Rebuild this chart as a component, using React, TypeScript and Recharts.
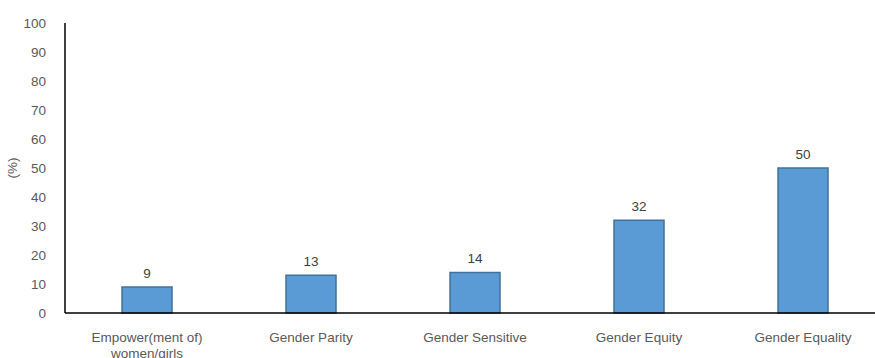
import { BarChart, Bar, XAxis, YAxis, LabelList, Label } from "recharts";

const categories = [
  "Empower(ment of)\nwomen/girls",
  "Gender Parity",
  "Gender Sensitive",
  "Gender Equity",
  "Gender Equality",
];
const values = [9, 13, 14, 32, 50];
const yTicks = [0, 10, 20, 30, 40, 50, 60, 70, 80, 90, 100];

const data = categories.map((name, i) => ({ name, value: values[i] }));

const FONT = "'Liberation Sans', Arial, sans-serif";
const TEXT = "#595959";

function CategoryTick(props: any) {
  const { x, y, payload } = props;
  const lines = String(payload.value).split("\n");
  return (
    <text x={x} y={y} textAnchor="middle" fill={TEXT} fontSize={13.5} fontFamily={FONT}>
      {lines.map((l, i) => (
        <tspan key={i} x={x} dy={i === 0 ? 21 : 15.5}>
          {l}
        </tspan>
      ))}
    </text>
  );
}

export default function App() {
  return (
    <div
      style={{
        position: "absolute",
        left: 0,
        top: 0,
        width: 875,
        height: 358,
        overflow: "hidden",
        background: "#fff",
      }}
    >
      <BarChart
        width={890}
        height={358}
        data={data}
        margin={{ top: 23, right: 5, left: 0, bottom: 0 }}
        barCategoryGap={57}
      >
        <XAxis
          dataKey="name"
          tick={<CategoryTick />}
          tickLine={false}
          axisLine={{ stroke: "#000", strokeWidth: 1.5 }}
          interval={0}
          height={45}
        />
        <YAxis
          domain={[0, 100]}
          ticks={yTicks}
          interval={0}
          width={65}
          tickLine={false}
          axisLine={{ stroke: "#000", strokeWidth: 1.5 }}
          tickMargin={13}
          tick={{ fill: TEXT, fontSize: 13.5, fontFamily: FONT }}
        >
          <Label
            value="(%)"
            angle={-90}
            position="insideLeft"
            offset={12}
            style={{ fill: TEXT, fontSize: 13.5, fontFamily: FONT, textAnchor: "middle" }}
          />
        </YAxis>
        <Bar
          dataKey="value"
          fill="#5B9BD5"
          stroke="#41719C"
          strokeWidth={1.5}
          barSize={50}
          isAnimationActive={false}
        >
          <LabelList
            dataKey="value"
            position="top"
            offset={9}
            style={{ fill: "#404040", fontSize: 13.5, fontFamily: FONT }}
          />
        </Bar>
      </BarChart>
    </div>
  );
}
